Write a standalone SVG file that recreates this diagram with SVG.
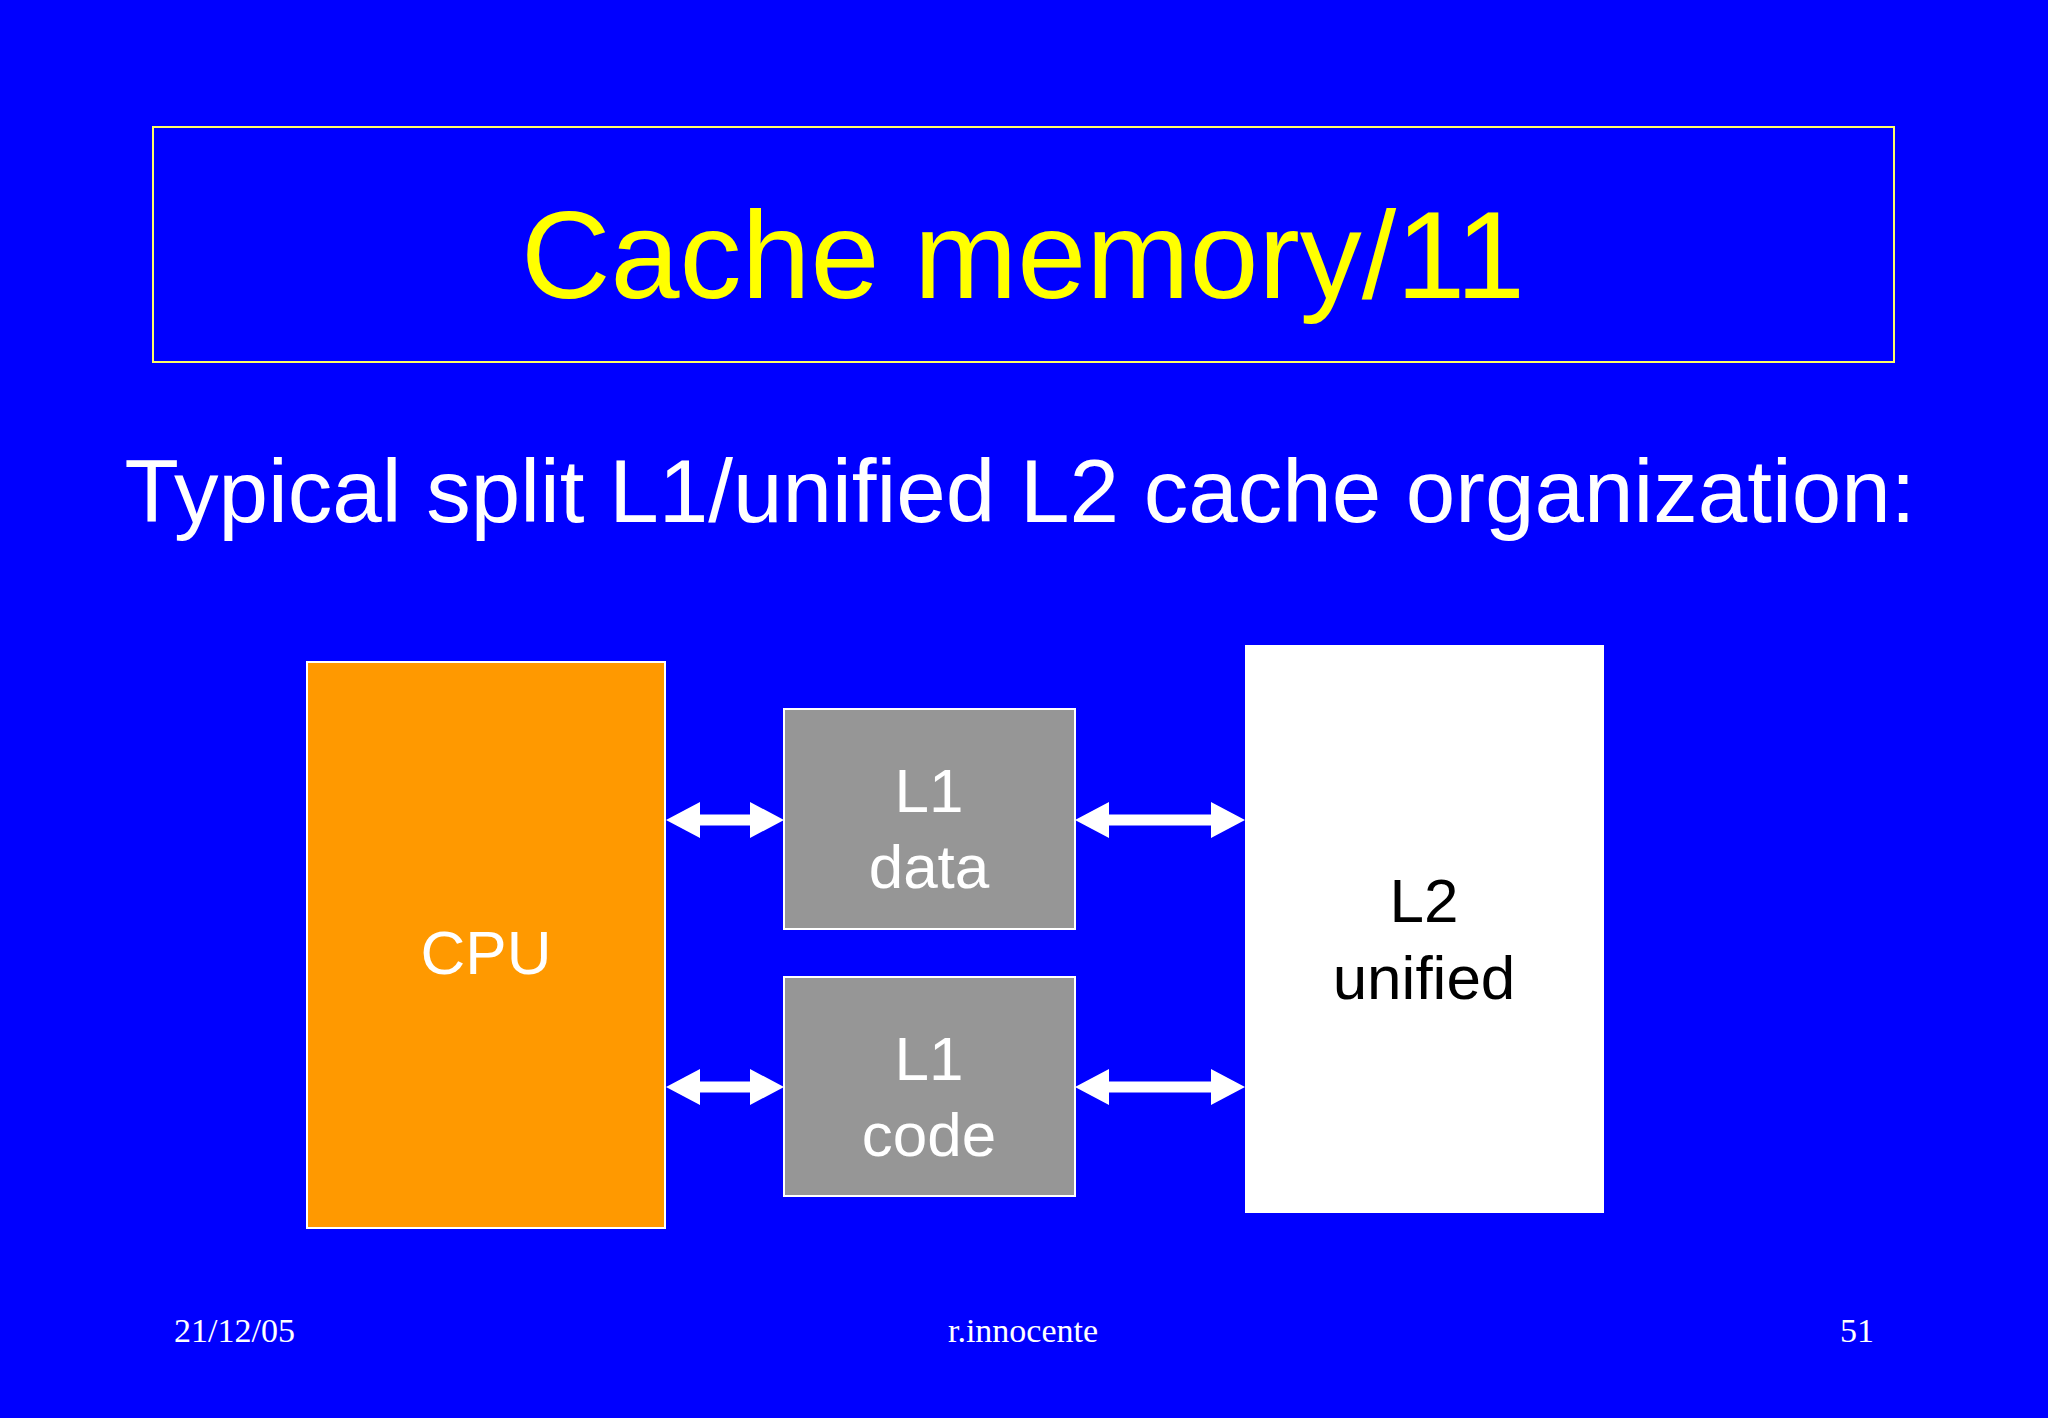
<svg xmlns="http://www.w3.org/2000/svg" width="2048" height="1418" viewBox="0 0 2048 1418">
<style>
.s{font-family:"Liberation Sans",Arial,sans-serif;text-anchor:middle}
.f{font-family:"Liberation Serif","Times New Roman",serif;font-size:34px;fill:#fff}
.box{stroke:#fff;stroke-width:2}
.arr{fill:#fff}
</style>
<rect width="2048" height="1418" fill="#0000FF"/>
<g id="title">
<rect x="153" y="127" width="1741" height="235" fill="none" stroke="#FFFF66" stroke-width="2"/>
<text class="s" x="1023" y="298" font-size="124" fill="#FFFF00">Cache memory/11</text>
</g>
<text class="s" x="1020" y="522" font-size="89" fill="#fff">Typical split L1/unified L2 cache organization:</text>
<g id="cpu">
<rect class="box" x="307" y="662" width="358" height="566" fill="#FF9900"/>
<text class="s" x="486" y="974" font-size="62" fill="#fff">CPU</text>
</g>
<g id="l1data">
<rect class="box" x="784" y="709" width="291" height="220" fill="#969696"/>
<text class="s" x="929" y="812" font-size="62" fill="#fff">L1</text>
<text class="s" x="929" y="888" font-size="62" fill="#fff">data</text>
</g>
<g id="l1code">
<rect class="box" x="784" y="977" width="291" height="219" fill="#969696"/>
<text class="s" x="929" y="1080" font-size="62" fill="#fff">L1</text>
<text class="s" x="929" y="1156" font-size="62" fill="#fff">code</text>
</g>
<g id="l2">
<rect x="1245" y="645" width="359" height="568" fill="#fff"/>
<text class="s" x="1424" y="922" font-size="62" fill="#000">L2</text>
<text class="s" x="1424" y="999" font-size="62" fill="#000">unified</text>
</g>
<g id="connectors">
<polygon class="arr" points="666,820 700,802 700,814.5 750,814.5 750,802 784,820 750,838 750,825.5 700,825.5 700,838"/>
<polygon class="arr" points="666,1087 700,1069 700,1081.5 750,1081.5 750,1069 784,1087 750,1105 750,1092.5 700,1092.5 700,1105"/>
<polygon class="arr" points="1075,820 1109,802 1109,814.5 1211,814.5 1211,802 1245,820 1211,838 1211,825.5 1109,825.5 1109,838"/>
<polygon class="arr" points="1075,1087 1109,1069 1109,1081.5 1211,1081.5 1211,1069 1245,1087 1211,1105 1211,1092.5 1109,1092.5 1109,1105"/>
</g>
<text class="f" x="174" y="1342">21/12/05</text>
<text class="f" x="1023" y="1342" text-anchor="middle">r.innocente</text>
<text class="f" x="1874" y="1342" text-anchor="end">51</text>
</svg>
